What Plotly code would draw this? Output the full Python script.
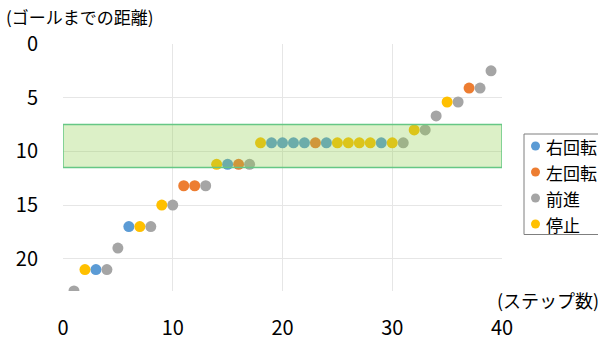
import plotly.graph_objects as go

# Step number, remaining distance to the goal, and the action taken at each step
steps = list(range(1, 40))
distance = [23, 21, 21, 21, 19, 17, 17, 17, 15, 15,
            13.2, 13.2, 13.2, 11.2, 11.2, 11.2, 11.2,
            9.2, 9.2, 9.2, 9.2, 9.2, 9.2, 9.2, 9.2, 9.2, 9.2, 9.2, 9.2, 9.2, 9.2,
            8, 8, 6.7, 5.4, 5.4, 4.1, 4.1, 2.5]
action = ["前進", "停止", "右回転", "前進", "前進", "右回転", "停止", "前進", "停止", "前進",
          "左回転", "左回転", "前進", "停止", "右回転", "左回転", "前進",
          "停止", "右回転", "右回転", "右回転", "右回転", "左回転", "右回転",
          "停止", "停止", "停止", "停止", "右回転", "停止", "前進",
          "停止", "前進", "前進", "停止", "前進", "左回転", "前進", "前進"]

actions = ["右回転", "左回転", "前進", "停止"]
colors = ["#5B9BD5", "#ED7D31", "#A5A5A5", "#FFC000"]

# Highlighted distance band
band_low, band_high = 7.5, 11.5

FONT = "Noto Sans CJK JP"
W, H = 598, 340
ML, MR, MT, MB = 63, 96, 44, 49
PW, PH = W - ML - MR, H - MT - MB


def px_to_paper(px, py):
    """Convert canvas pixel position to paper coordinates."""
    return (px - ML) / PW, (H - MB - py) / PH


fig = go.Figure()
for name, col in zip(actions, colors):
    xs = [s for s, a in zip(steps, action) if a == name]
    ys = [d for d, a in zip(distance, action) if a == name]
    fig.add_trace(go.Scatter(
        x=xs, y=ys, mode="markers", name=name, showlegend=False,
        marker=dict(color=col, size=11, line=dict(width=0)),
    ))

# Translucent band drawn over the markers
fig.add_shape(
    type="rect", xref="x", yref="y", x0=0, x1=40, y0=band_low, y1=band_high,
    fillcolor="rgba(146,208,80,0.32)", line=dict(color="#66C785", width=1.5),
    layer="above",
)

# Legend box on the right, running off the canvas edge
bx0, by0 = px_to_paper(524, 234.5)
bx1, by1 = px_to_paper(620, 134)
fig.add_shape(type="rect", xref="paper", yref="paper", x0=bx0, x1=bx1, y0=by0, y1=by1,
              line=dict(color="#7F7F7F", width=1), fillcolor="white", layer="above")

annotations = []
for i, (name, col) in enumerate(zip(actions, colors)):
    cy = 146 + 26 * i
    dx, dy = px_to_paper(535.5, cy)
    fig.add_shape(type="circle", xref="paper", yref="paper",
                  xsizemode="pixel", ysizemode="pixel", xanchor=dx, yanchor=dy,
                  x0=-4.5, x1=4.5, y0=-4.5, y1=4.5,
                  fillcolor=col, line=dict(width=0), layer="above")
    tx, ty = px_to_paper(544, cy)
    annotations.append(dict(text=name, xref="paper", yref="paper", x=tx, y=ty,
                            xanchor="left", yanchor="middle", showarrow=False,
                            font=dict(size=17, family=FONT, color="#000000")))

ytx, yty = px_to_paper(5, 17)
xtx, xty = px_to_paper(496, 300)
annotations += [
    dict(text="(ゴールまでの距離)", xref="paper", yref="paper",
         x=ytx, y=yty, xanchor="left", yanchor="middle", borderpad=0,
         showarrow=False, font=dict(size=17, family=FONT)),
    dict(text="(ステップ数)", xref="paper", yref="paper",
         x=xtx, y=xty, xanchor="left", yanchor="middle", borderpad=0,
         showarrow=False, font=dict(size=18, family=FONT)),
]

fig.update_layout(
    width=W, height=H,
    margin=dict(l=ML, r=MR, t=MT, b=MB, autoexpand=False),
    paper_bgcolor="white", plot_bgcolor="white",
    font=dict(family=FONT, color="#000000"),
    showlegend=False,
    xaxis=dict(
        range=[0, 40], dtick=10, showgrid=True, gridcolor="#E6E6E6", gridwidth=1,
        zeroline=False, showline=False, ticks="",
        tickfont=dict(size=20, family=FONT), ticklabelstandoff=23,
    ),
    yaxis=dict(
        range=[23, 0], tickvals=[0, 5, 10, 15, 20], showgrid=True,
        gridcolor="#E6E6E6", gridwidth=1, zeroline=False, showline=False, ticks="",
        tickfont=dict(size=20, family=FONT), ticklabelstandoff=24,
    ),
    annotations=annotations,
)

fig.write_html("out.html")
